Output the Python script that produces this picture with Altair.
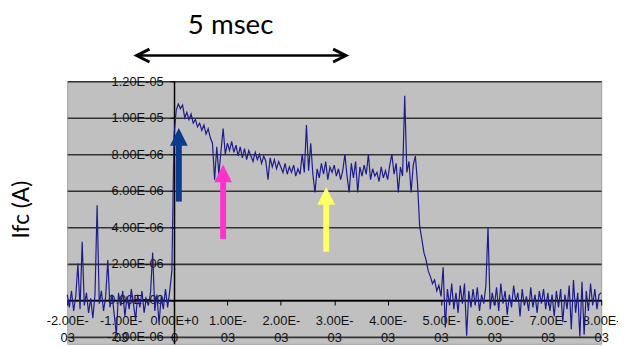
import json
import altair as alt
import pandas as pd

# ---------------- data (time in ms, current in µA) ----------------
seg_a = [0.3, -0.4, 0.5, -0.6, 0.2, 2.0, -0.5, 3.2, -0.3, 0.4, -0.7, 0.1, -1.0, 0.3, 5.2,
         -0.2, 0.5, -0.6, 0.2, 2.2, -0.4, 0.3, -0.8, -1.9, 0.4]
seg_b = [-0.3, 0.5, -0.9, 0.2, -0.5, 0.6, -0.2, -1.1, 0.3, -0.4, 0.5, -0.7, 0.1, -0.3, 0.4,
         2.6, -0.6, 0.3, -1.3, 0.2, -0.5, 0.6, -0.4, 0.5, 1.6]
seg_c = [9.0, 10.4, 10.75, 10.5, 10.7, 10.0, 10.3, 9.9, 10.2, 9.7, 9.9, 9.5, 9.7, 9.3, 9.6,
         9.1, 9.4, 8.9, 8.6, 6.6, 8.4, 6.9, 8.2, 9.4, 8.0]
seg_d = [8.6, 8.2, 8.7, 8.1, 8.5, 7.9, 8.4, 7.8, 8.3, 7.7, 8.2, 7.9, 7.6, 8.1, 7.7,
         8.0, 7.5, 7.9, 7.6, 6.6, 7.8, 7.3, 7.7, 7.2, 7.6]
seg_e = [7.3, 7.0, 7.5, 6.9, 7.3, 7.0, 7.4, 6.8, 7.2, 6.9, 8.0, 7.0, 9.6, 7.1, 8.6,
         6.9, 5.9, 7.2, 6.7, 7.5, 6.9, 7.6, 6.6, 7.3, 7.0]
seg_f = [7.4, 6.8, 7.2, 6.6, 7.1, 8.0, 6.8, 5.9, 7.5, 6.7, 7.6, 5.9, 7.3, 6.8, 7.4,
         6.9, 8.0, 6.6, 7.2, 6.8, 7.0, 6.5, 7.3, 6.7, 7.1]
seg_g = [6.6, 7.4, 8.0, 6.9, 7.5, 5.9, 7.3, 6.8, 11.2, 7.0, 7.6, 5.9, 7.4, 7.9, 6.4,
         4.05, 3.35, 2.6, 2.2, 1.6, 1.3, 0.9, 1.1, 0.5, 0.8]
seg_h = [0.2, 1.8, -1.5, 0.6, -0.3, 0.9, -0.5, 0.4, -0.7, 0.8, -0.2, 0.9, -1.95, 0.5, -0.4,
         0.6, -0.3, 0.7, -0.6, 0.3, -0.2, 0.8, 4.0, -0.5, 0.4]
seg_i = [-0.3, 0.7, -0.6, 0.9, -0.2, 0.5, -0.8, 0.3, -0.4, 0.8, -0.1, 0.4, -0.9, 0.6, -0.3,
         0.2, -0.6, 0.7, -0.4, 0.3, -0.7, 0.5, -0.2, 0.6, -0.5]
seg_j = [0.4, -0.6, 0.3, -0.9, 0.5, -0.4, 0.6, -1.2, 0.3, -0.5, 0.8, -1.6, 1.1, -0.7, 0.4,
         -2.0, 1.0, -1.9, 0.5, -0.6, 0.9, -0.3, 0.6, -0.5, 0.3, 0.4]

current_ua = seg_a + seg_b + seg_c + seg_d + seg_e + seg_f + seg_g + seg_h + seg_i + seg_j
sample_step_ms = 0.04
time_ms = [round(-2 + sample_step_ms * i, 2) for i in range(len(current_ua))]

x_ticks = [-2, -1, 0, 1, 2, 3, 4, 5, 6, 7, 8]
x_label_top = ["-2.00E-", "-1.00E-", "0.00E+0", "1.00E-", "2.00E-", "3.00E-", "4.00E-",
               "5.00E-", "6.00E-", "7.00E-", "8.00E-"]
x_label_bottom = ["03", "03", "0", "03", "03", "03", "03", "03", "03", "03", "03"]
y_ticks = [-2, 0, 2, 4, 6, 8, 10, 12]
y_labels = ["-2.00E-06", "0.00E+00", "2.00E-06", "4.00E-06", "6.00E-06", "8.00E-06",
            "1.00E-05", "1.20E-05"]

arrow_x = [0.09, 0.92, 2.85]
arrow_head_y = [8.95, 6.95, 5.71]
arrow_tail_y = [5.4, 3.35, 2.65]
arrow_color = ["#0b3b8f", "#ff33cc", "#ffff66"]

span_ms = [-0.70, 3.22]
span_label = "5 msec"
y_title = "Ifc (A)"

# ---------------- helpers ----------------
def label_expr(values, labels):
    e = "''"
    for v, l in reversed(list(zip(values, labels))):
        e = f"datum.value === {v} ? {json.dumps(l)} : ({e})"
    return e

W, H = 541, 266
Y_MIN, Y_MAX = -2.4, 12
X_MIN, X_MAX = -2, 8
x_axis_offset = -H * (0 - Y_MIN) / (Y_MAX - Y_MIN)
y_axis_offset = -W * (0 - X_MIN) / (X_MAX - X_MIN)

xs = alt.Scale(domain=[X_MIN, X_MAX], nice=False, zero=False)
ys = alt.Scale(domain=[Y_MIN, Y_MAX], nice=False, zero=False)

df = pd.DataFrame({"t": time_ms, "i": current_ua})

x_axis = alt.Axis(
    values=x_ticks, labelExpr=label_expr(x_ticks, [[a, b] for a, b in zip(x_label_top, x_label_bottom)]),
    offset=x_axis_offset, grid=False, domainColor="black", domainWidth=1.5,
    tickColor="black", tickSize=5, labelFont="Liberation Sans", labelFontSize=13,
    labelColor="#111", labelLineHeight=17, labelPadding=10, labelOverlap=False,
    labelFlush=False, title=None)
y_axis = alt.Axis(
    values=y_ticks, labelExpr=label_expr(y_ticks, y_labels), offset=y_axis_offset,
    grid=True, gridColor="#333333", gridWidth=1.6, domainColor="black", domainWidth=1.5,
    tickColor="black", tickSize=4, labelFont="Liberation Sans", labelFontSize=13,
    labelColor="#111", labelPadding=7, labelOverlap=False, labelFlush=False, title=None)


def X(field):
    return alt.X(field, type="quantitative", scale=xs, axis=x_axis)


def Y(field):
    return alt.Y(field, type="quantitative", scale=ys, axis=y_axis)


line = alt.Chart(df).mark_line(color="#1c1c8c", strokeWidth=1.2).encode(
    x=X("t"), y=Y("i"))

arr_df = pd.DataFrame({"x": arrow_x, "yh": arrow_head_y, "yt": arrow_tail_y, "c": arrow_color})
shafts = alt.Chart(arr_df).mark_rule(strokeWidth=6, strokeCap="butt").encode(
    x=X("x"), y=Y("yt"), y2="yh:Q", color=alt.Color("c:N", scale=None))
heads = alt.Chart(arr_df).mark_point(
    shape="M 0 -1 L 1 1 L -1 1 Z", filled=True, size=324, opacity=1).encode(
    x=X("x"), y=Y("yh"), color=alt.Color("c:N", scale=None))

span_df = pd.DataFrame({"x0": [span_ms[0]], "x1": [span_ms[1]]})
span_rule = alt.Chart(span_df).mark_rule(color="black", strokeWidth=2.5).encode(
    x=X("x0"), x2="x1:Q", y=alt.value(-26))
left_head = alt.Chart(span_df).mark_point(
    shape="M 2 -1 L 0 0 L 2 1", filled=False, stroke="black", strokeWidth=3,
    size=169, opacity=1).encode(x=X("x0"), y=alt.value(-26))
right_head = alt.Chart(span_df).mark_point(
    shape="M -2 -1 L 0 0 L -2 1", filled=False, stroke="black", strokeWidth=3,
    size=169, opacity=1).encode(x=X("x1"), y=alt.value(-26))

span_text = alt.Chart(pd.DataFrame({"x": [(span_ms[0] + span_ms[1]) / 2 - 0.2], "s": [span_label]})).mark_text(
    font="Lato", fontSize=28, color="black", baseline="alphabetic", align="center").encode(
    x=X("x"), y=alt.value(-48), text="s:N")

ytitle = alt.Chart(pd.DataFrame({"s": [y_title]})).mark_text(
    font="Lato", fontSize=23, color="black", angle=270, align="center", baseline="middle").encode(
    x=alt.value(-46), y=alt.value(130), text="s:N")

chart = alt.layer(line, shafts, heads, span_rule, left_head, right_head, span_text, ytitle).properties(
    width=W, height=H,
    autosize=alt.AutoSizeParams(type="none"),
    padding={"left": 60, "top": 72, "right": 17, "bottom": 0},
).configure_view(fill="#c0c0c0", stroke="#a0a0a0", strokeWidth=1)

chart.save("out.html", embed_options={"renderer": "svg", "actions": False})
